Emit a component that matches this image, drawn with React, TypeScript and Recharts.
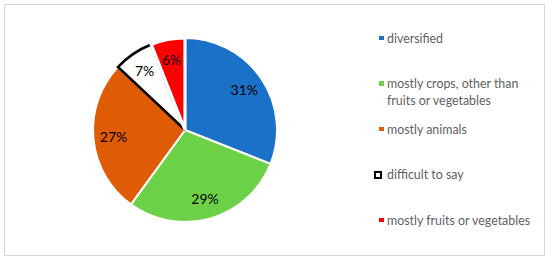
import React from "react";
import { PieChart, Pie, Cell, Legend } from "recharts";

const categories = [
  "diversified",
  "mostly crops, other than fruits or vegetables",
  "mostly animals",
  "difficult to say",
  "mostly fruits or vegetables",
];
const shares = [31, 29, 27, 7, 6];
const fills = ["#1B70C8", "#6DD147", "#E05B06", "#FFFFFF", "#FF0000"];
const strokes = ["#FFFFFF", "#FFFFFF", "#FFFFFF", "#000000", "#FFFFFF"];
const strokeWidths = [2, 2, 2, 2.6, 3.2];

const data = categories.map((name, i) => ({ name, value: shares[i] }));

const RAD = Math.PI / 180;

const renderLabel = (props: any) => {
  const { cx, cy, midAngle, outerRadius, value } = props;
  const r = outerRadius * 0.78;
  const x = cx + r * Math.cos(-midAngle * RAD);
  const y = cy + r * Math.sin(-midAngle * RAD);
  return (
    <text
      x={x}
      y={y}
      fill="#000"
      fontSize={14}
      fontFamily="Lato, sans-serif"
      textAnchor="middle"
      dominantBaseline="central"
    >
      {`${value}%`}
    </text>
  );
};

const renderLegend = () => (
  <div style={{ fontFamily: "Lato, sans-serif", fontSize: 12.4, color: "#5F5F5F" }}>
    {categories.map((c, i) => (
      <div
        key={c}
        style={{ position: "relative", height: 45.5, lineHeight: "17px" }}
      >
        {i === 3 ? (
          <span
            style={{
              position: "absolute",
              left: 4,
              top: 4.5,
              width: 4,
              height: 4,
              border: "2px solid #000",
              background: "#fff",
            }}
          />
        ) : (
          <span
            style={{
              position: "absolute",
              left: 9,
              top: 6,
              width: 4.5,
              height: 4.5,
              background: fills[i],
            }}
          />
        )}
        <div style={{ position: "absolute", left: 17, top: 0, width: 155 }}>{c}</div>
      </div>
    ))}
  </div>
);

export default function App() {
  return (
    <div style={{ position: "absolute", left: 0, top: 0, width: 550, height: 261, background: "#fff" }}>
      <div
        style={{
          position: "absolute",
          left: 4,
          top: 4,
          width: 539,
          height: 250,
          border: "1px solid #D9D9D9",
        }}
      />
      <PieChart width={550} height={261} margin={{ top: 0, right: 0, bottom: 0, left: 0 }}>
        <Pie
          data={data}
          dataKey="value"
          nameKey="name"
          cx={185}
          cy={130}
          outerRadius={92}
          startAngle={90}
          endAngle={-270}
          label={renderLabel}
          labelLine={false}
          isAnimationActive={false}
        >
          {data.map((d, i) => (
            <Cell key={d.name} fill={fills[i]} stroke={strokes[i]} strokeWidth={strokeWidths[i]} />
          ))}
        </Pie>
        <Legend
          content={renderLegend}
          wrapperStyle={{ position: "absolute", left: 370, top: 29.5, width: 175, height: 230 }}
        />
      </PieChart>
    </div>
  );
}
